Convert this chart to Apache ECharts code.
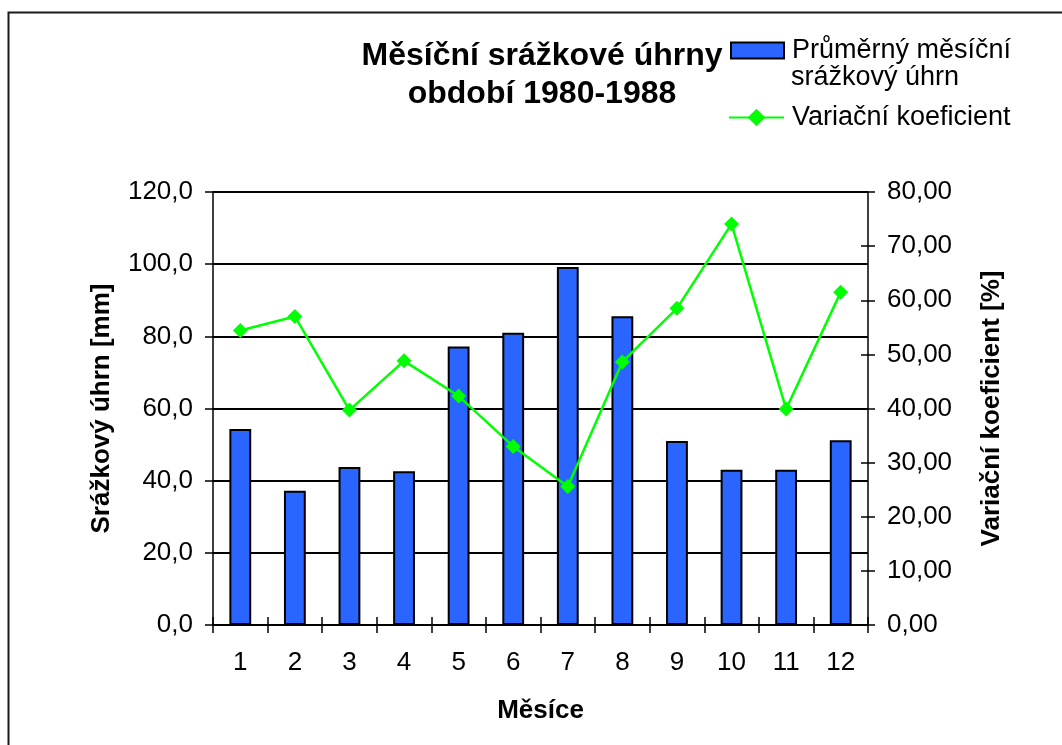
<!DOCTYPE html>
<html>
<head>
<meta charset="utf-8">
<script src="https://cdn.jsdelivr.net/npm/echarts@6/dist/echarts.min.js"></script>
<style>
  html, body { margin: 0; padding: 0; background: #ffffff; }
  #chart { width: 1062px; height: 745px; }
</style>
</head>
<body>
<div id="chart"></div>
<script>
// Monthly precipitation totals and their coefficient of variation, 1980-1988
const months = ['1', '2', '3', '4', '5', '6', '7', '8', '9', '10', '11', '12'];
const precipitation = [54.3, 37.2, 43.8, 42.6, 77.2, 81.0, 99.2, 85.6, 51.0, 43.0, 43.0, 51.2];
const variation = [54.4, 57.0, 39.7, 48.8, 42.3, 33.0, 25.6, 48.6, 58.5, 74.1, 39.9, 61.5];

const barName = 'Průměrný měsíční srážkový úhrn';
const lineName = 'Variační koeficient';

const FONT = 'Liberation Sans, Arial, Helvetica, sans-serif';
const comma = (v, d) => v.toFixed(d).replace('.', ',');

const chart = echarts.init(document.getElementById('chart'), null, { renderer: 'canvas' });

chart.setOption({
  backgroundColor: '#ffffff',
  animation: false,
  textStyle: { fontFamily: FONT, color: '#000' },
  title: {
    text: 'Měsíční srážkové úhrny\nobdobí 1980-1988',
    left: 542,
    top: 37,
    padding: 0,
    textAlign: 'center',
    textStyle: { fontFamily: FONT, fontSize: 32, fontWeight: 'bold', color: '#000', lineHeight: 38 }
  },
  legend: [
    {
      data: [{ name: barName, icon: 'rect' }],
      left: 730,
      top: 37,
      padding: 0,
      itemWidth: 53,
      itemHeight: 16,
      formatter: () => 'Průměrný měsíční',
      textStyle: { fontFamily: FONT, fontSize: 27, color: '#000', padding: [0, 0, 0, 3] },
      selectedMode: false
    },
    {
      data: [lineName],
      left: 728,
      top: 104,
      padding: 0,
      itemWidth: 55,
      itemHeight: 22,
      textStyle: { fontFamily: FONT, fontSize: 27, color: '#000', padding: [0, 0, 0, 3] },
      selectedMode: false
    }
  ],
  graphic: [
    {
      type: 'rect',
      shape: { x: 8.5, y: 12.5, width: 1200, height: 1000 },
      style: { fill: 'none', stroke: '#1a1a1a', lineWidth: 2 },
      silent: true,
      z: -10
    },
    {
      type: 'text',
      left: 791,
      top: 64,
      style: { text: 'srážkový úhrn', font: '27px ' + FONT, fill: '#000' }
    }
  ],
  grid: { left: 213, right: 194, top: 192, bottom: 120, containLabel: false },
  xAxis: [
    {
      type: 'category',
      data: months,
      name: 'Měsíce',
      nameLocation: 'middle',
      nameGap: 73,
      nameTextStyle: { fontFamily: FONT, fontSize: 26, fontWeight: 'bold', color: '#000' },
      axisLine: { lineStyle: { color: '#000', width: 1.5 } },
      axisTick: { show: true, length: 8, lineStyle: { color: '#000', width: 1.5 } },
      axisLabel: { margin: 25, fontSize: 26, fontFamily: FONT, color: '#000' },
      splitLine: { show: false }
    },
    {
      type: 'category',
      data: months,
      position: 'bottom',
      axisLine: { show: false },
      axisTick: { show: true, inside: true, length: 8, lineStyle: { color: '#000', width: 1.5 } },
      axisLabel: { show: false },
      splitLine: { show: false }
    }
  ],
  yAxis: [
    {
      type: 'value',
      min: 0,
      max: 120,
      interval: 20,
      position: 'left',
      name: 'Srážkový úhrn [mm]',
      nameLocation: 'middle',
      nameRotate: 90,
      nameGap: 98,
      nameTextStyle: { fontFamily: FONT, fontSize: 26, fontWeight: 'bold', color: '#000' },
      axisLine: { show: true, lineStyle: { color: '#000', width: 1.5 } },
      axisTick: { show: true, length: 8, lineStyle: { color: '#000', width: 1.5 } },
      axisLabel: { margin: 20, fontSize: 26, fontFamily: FONT, color: '#000', formatter: v => comma(v, 1) },
      splitLine: { show: true, lineStyle: { color: '#000', width: 2 } }
    },
    {
      type: 'value',
      min: 0,
      max: 80,
      interval: 10,
      position: 'right',
      name: 'Variační koeficient [%]',
      nameLocation: 'middle',
      nameRotate: 90,
      nameGap: 111,
      nameTextStyle: { fontFamily: FONT, fontSize: 26, fontWeight: 'bold', color: '#000' },
      axisLine: { show: true, lineStyle: { color: '#000', width: 1.5 } },
      axisTick: { show: true, length: 7, lineStyle: { color: '#000', width: 1.5 } },
      axisLabel: { margin: 19, fontSize: 26, fontFamily: FONT, color: '#000', formatter: v => comma(v, 2) },
      splitLine: { show: false }
    },
    {
      type: 'value',
      min: 0,
      max: 80,
      interval: 10,
      position: 'right',
      axisLine: { show: false },
      axisTick: { show: true, inside: true, length: 7, lineStyle: { color: '#000', width: 1.5 } },
      axisLabel: { show: false },
      splitLine: { show: false }
    }
  ],
  series: [
    {
      name: barName,
      type: 'bar',
      xAxisIndex: 0,
      yAxisIndex: 0,
      data: precipitation,
      barCategoryGap: '60%',
      itemStyle: { color: '#2B65FF', borderColor: '#000', borderWidth: 2 },
      z: 2
    },
    {
      name: lineName,
      type: 'line',
      xAxisIndex: 0,
      yAxisIndex: 1,
      data: variation,
      symbol: 'diamond',
      symbolSize: 15,
      color: '#00FF00',
      lineStyle: { color: '#00FF00', width: 2.5 },
      itemStyle: { color: '#00FF00' },
      z: 3
    }
  ]
});
</script>
</body>
</html>
